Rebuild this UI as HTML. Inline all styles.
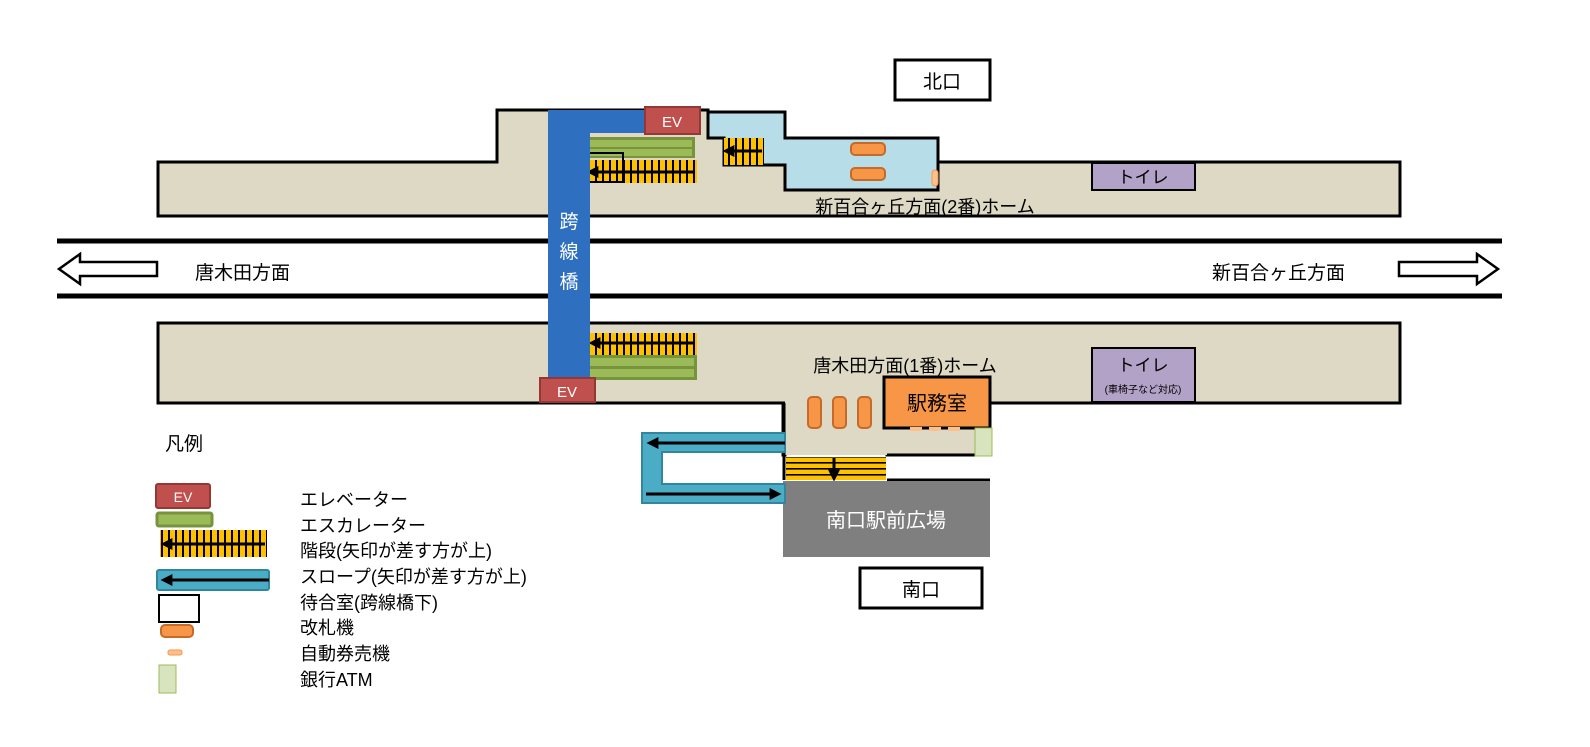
<!DOCTYPE html>
<html><head><meta charset="utf-8"><style>
body{margin:0;background:#fff}
svg{display:block}
text{font-family:"Liberation Sans","Noto Sans CJK JP",sans-serif}
</style></head><body>
<svg width="1590" height="747" viewBox="0 0 1590 747" xmlns="http://www.w3.org/2000/svg">
<defs>
<marker id="ah" viewBox="0 0 10 10" refX="2" refY="5" markerWidth="4" markerHeight="4" orient="auto-start-reverse"><path d="M0,0 L10,5 L0,10 z" fill="#000"/></marker>
<pattern id="st" width="7" height="10" patternUnits="userSpaceOnUse"><rect width="7" height="10" fill="#ffc000"/><rect x="0" width="2" height="10" fill="#000"/></pattern>
<pattern id="sth" width="10" height="6" patternUnits="userSpaceOnUse"><rect width="10" height="6" fill="#ffc000"/><rect y="0" width="10" height="1.6" fill="#000"/></pattern>
</defs>
<!-- 北口 -->
<rect x="895" y="60" width="95" height="40" fill="#fff" stroke="#000" stroke-width="3"/>
<text x="942" y="88" font-size="19" text-anchor="middle">北口</text>
<!-- top platform -->
<path d="M158,162 H497 V110 H708 V138 H724 V162 H1400 V216 H158 Z" fill="#ddd9c4" stroke="#000" stroke-width="3"/>
<path d="M708,112 H785 V138 H938 V190 H785 V165 H724 V138 H708 Z" fill="#b7dde8" stroke="#000" stroke-width="3"/>
<rect x="724" y="138" width="40" height="27" fill="url(#st)"/>
<line x1="762" y1="151" x2="732" y2="151" stroke="#000" stroke-width="3" marker-end="url(#ah)"/>
<rect x="851" y="143" width="34" height="12" rx="4" fill="#f79646" stroke="#c66a2a" stroke-width="2"/>
<rect x="851" y="168" width="34" height="12" rx="4" fill="#f79646" stroke="#c66a2a" stroke-width="2"/>
<rect x="932" y="170" width="6" height="16" rx="3" fill="#fac090" stroke="#f79646"/>
<rect x="1092" y="163" width="103" height="27" fill="#b3a2c7" stroke="#000" stroke-width="2"/>
<text x="1143" y="183" font-size="17" text-anchor="middle">トイレ</text>
<text x="925" y="213" font-size="18" text-anchor="middle">新百合ヶ丘方面(2番)ホーム</text>
<!-- bridge top -->
<rect x="588" y="110" width="60" height="23" fill="#2e6fc0"/>
<rect x="645" y="107" width="55" height="27" fill="#c0504d" stroke="#953735" stroke-width="2"/>
<text x="672" y="127" font-size="15" fill="#fff" text-anchor="middle">EV</text>
<rect x="587" y="137" width="108" height="21" fill="#77933c"/>
<rect x="590" y="140" width="102" height="7" fill="#9bbb59"/>
<rect x="590" y="149" width="102" height="7" fill="#9bbb59"/>
<rect x="587" y="160" width="110" height="23" fill="url(#st)"/>
<line x1="695" y1="172" x2="596" y2="172" stroke="#000" stroke-width="3" marker-end="url(#ah)"/>
<rect x="583" y="153" width="40" height="29" fill="none" stroke="#000" stroke-width="2"/>
<!-- tracks -->
<line x1="57" y1="241" x2="1502" y2="241" stroke="#000" stroke-width="5"/>
<line x1="57" y1="296" x2="1502" y2="296" stroke="#000" stroke-width="5"/>
<path d="M157,262 H80 V254 L59,269 L80,284 V276 H157 Z" fill="#fff" stroke="#000" stroke-width="2.5"/>
<path d="M1399,262 H1477 V254 L1498,269 L1477,284 V276 H1399 Z" fill="#fff" stroke="#000" stroke-width="2.5"/>
<text x="195" y="279" font-size="19">唐木田方面</text>
<text x="1212" y="279" font-size="19">新百合ヶ丘方面</text>
<!-- bottom platform -->
<path d="M158,323 H1400 V403 H990 V455 H887 V403 H785 V455 H783 V403 H158 Z" fill="#ddd9c4" stroke="#000" stroke-width="3"/>
<rect x="785" y="401" width="205" height="54" fill="#ddd9c4"/>
<line x1="784" y1="403" x2="784" y2="480" stroke="#000" stroke-width="3"/>
<line x1="887" y1="455" x2="990" y2="455" stroke="#000" stroke-width="3"/>
<rect x="1092" y="348" width="103" height="54" fill="#b3a2c7" stroke="#000" stroke-width="2"/>
<text x="1143" y="371" font-size="17" text-anchor="middle">トイレ</text>
<text x="1143" y="393" font-size="10" text-anchor="middle">(車椅子など対応)</text>
<text x="905" y="372" font-size="18" text-anchor="middle">唐木田方面(1番)ホーム</text>
<rect x="590" y="333" width="107" height="22" fill="url(#st)"/>
<line x1="695" y1="343" x2="598" y2="343" stroke="#000" stroke-width="3" marker-end="url(#ah)"/>
<rect x="587" y="355" width="110" height="25" fill="#77933c"/>
<rect x="590" y="358" width="104" height="8" fill="#9bbb59"/>
<rect x="590" y="369" width="104" height="8" fill="#9bbb59"/>
<!-- bridge -->
<rect x="548" y="110" width="42" height="270" fill="#2e6fc0"/>
<text x="569" y="228" font-size="19" fill="#fff" text-anchor="middle">跨</text>
<text x="569" y="258" font-size="19" fill="#fff" text-anchor="middle">線</text>
<text x="569" y="288" font-size="19" fill="#fff" text-anchor="middle">橋</text>
<rect x="540" y="378" width="55" height="24" fill="#c0504d" stroke="#953735" stroke-width="2"/>
<text x="567" y="397" font-size="15" fill="#fff" text-anchor="middle">EV</text>
<!-- concourse -->
<rect x="808" y="397" width="13" height="31" rx="4" fill="#f79646" stroke="#c66a2a" stroke-width="2"/>
<rect x="833" y="397" width="13" height="31" rx="4" fill="#f79646" stroke="#c66a2a" stroke-width="2"/>
<rect x="858" y="397" width="13" height="31" rx="4" fill="#f79646" stroke="#c66a2a" stroke-width="2"/>
<rect x="884" y="377" width="106" height="51" fill="#f79646" stroke="#000" stroke-width="3"/>
<text x="937" y="410" font-size="20" text-anchor="middle">駅務室</text>
<rect x="910" y="427" width="12" height="4" fill="#fac090"/>
<rect x="929" y="427" width="12" height="4" fill="#fac090"/>
<rect x="948" y="427" width="12" height="4" fill="#fac090"/>
<rect x="975" y="428" width="17" height="28" fill="#d7e4bd" stroke="#9bbb59"/>
<rect x="786" y="457" width="100" height="23" fill="url(#sth)"/>
<line x1="834" y1="458" x2="834" y2="472" stroke="#000" stroke-width="3" marker-end="url(#ah)"/>
<line x1="887" y1="480" x2="990" y2="480" stroke="#000" stroke-width="3"/>
<rect x="783" y="481" width="207" height="76" fill="#7f7f7f"/>
<text x="886" y="527" font-size="20" fill="#fff" text-anchor="middle">南口駅前広場</text>
<!-- slope -->
<path d="M785,433 H642 V503 H785 V484 H662 V452 H785 Z" fill="#4bacc6" stroke="#31859c" stroke-width="2"/>
<line x1="785" y1="443" x2="656" y2="443" stroke="#000" stroke-width="3" marker-end="url(#ah)"/>
<line x1="646" y1="494" x2="772" y2="494" stroke="#000" stroke-width="3" marker-end="url(#ah)"/>
<rect x="860" y="568" width="122" height="40" fill="#fff" stroke="#000" stroke-width="3"/>
<text x="921" y="596" font-size="19" text-anchor="middle">南口</text>
<!-- legend -->
<text x="165" y="450" font-size="19">凡例</text>
<rect x="156" y="484" width="54" height="24" rx="2" fill="#c0504d" stroke="#953735" stroke-width="2"/>
<text x="183" y="502" font-size="14" fill="#fff" text-anchor="middle">EV</text>
<rect x="157" y="513" width="55" height="13" rx="2" fill="#9bbb59" stroke="#77933c" stroke-width="3"/>
<rect x="160" y="530" width="107" height="27" fill="url(#st)"/>
<line x1="265" y1="544" x2="170" y2="544" stroke="#000" stroke-width="3" marker-end="url(#ah)"/>
<rect x="157" y="570" width="112" height="20" rx="2" fill="#4bacc6" stroke="#31859c" stroke-width="2"/>
<line x1="269" y1="580" x2="170" y2="580" stroke="#000" stroke-width="3" marker-end="url(#ah)"/>
<rect x="159" y="595" width="40" height="27" fill="#fff" stroke="#000" stroke-width="2"/>
<rect x="161" y="625" width="32" height="12" rx="4" fill="#f79646" stroke="#c66a2a" stroke-width="2"/>
<rect x="168" y="650" width="14" height="5" rx="2" fill="#fac090" stroke="#f79646"/>
<rect x="159" y="665" width="17" height="28" fill="#d7e4bd" stroke="#9bbb59"/>
<g font-size="18">
<text x="300" y="506">エレベーター</text>
<text x="300" y="532">エスカレーター</text>
<text x="300" y="557">階段(矢印が差す方が上)</text>
<text x="300" y="583">スロープ(矢印が差す方が上)</text>
<text x="300" y="609">待合室(跨線橋下)</text>
<text x="300" y="634">改札機</text>
<text x="300" y="660">自動券売機</text>
<text x="300" y="686">銀行ATM</text>
</g>
</svg>
</body></html>
